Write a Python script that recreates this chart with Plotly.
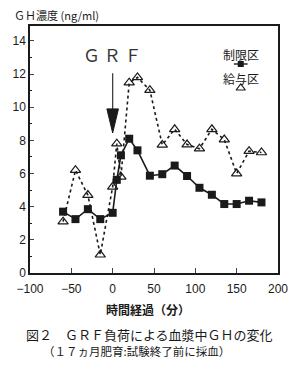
import plotly.graph_objects as go

# Data
time_min = [-60, -45, -30, -15, 0, 5, 10, 20, 30, 45, 60, 75, 90, 105, 120, 135, 150, 165, 180]
restricted = [3.7, 3.25, 3.85, 3.25, 3.63, 5.62, 7.1, 8.1, 7.4, 5.87, 5.96, 6.48, 5.85, 5.14, 4.72, 4.16, 4.16, 4.36, 4.26]
fed = [3.1, 6.2, 4.7, 1.1, 5.2, 7.8, 5.8, 11.48, 11.8, 11.03, 7.73, 8.67, 7.75, 7.5, 8.67, 8.05, 6.0, 7.35, 7.27]

x_ticks = [-100, -50, 0, 50, 100, 150, 200]
y_ticks = [0, 2, 4, 6, 8, 10, 12, 14]
name_restricted = "制限区"
name_fed = "給与区"

jp = "Noto Sans CJK JP"
num_font = "Liberation Sans Narrow, Liberation Sans, Arial"
ink = "#1a1a1a"

W, H = 300, 377
l, r, t, b = 30, 17, 26, 104


def px(xp, yp):
    return (xp - l) / (W - l - r), 1 - (yp - t) / (H - t - b)


fig = go.Figure()
fig.add_trace(go.Scatter(
    x=time_min, y=fed, mode="lines+markers", name=name_fed,
    line=dict(color=ink, width=1.6, dash="dot"),
    marker=dict(symbol="triangle-up-open", size=9, color=ink, line=dict(width=1.2)),
    showlegend=False, cliponaxis=False))
fig.add_trace(go.Scatter(
    x=time_min, y=restricted, mode="lines+markers", name=name_restricted,
    line=dict(color=ink, width=1.6),
    marker=dict(symbol="square", size=8, color=ink),
    showlegend=False, cliponaxis=False))

# legend keys on a hidden pixel-like overlay axis
fig.add_trace(go.Scatter(x=[238, 245, 252], y=[64, 64, 64], mode="lines", xaxis="x2", yaxis="y2",
                         line=dict(color=ink, width=1.4), showlegend=False, hoverinfo="skip"))
fig.add_trace(go.Scatter(x=[245], y=[64], mode="markers", xaxis="x2", yaxis="y2",
                         marker=dict(symbol="square", size=6, color=ink), showlegend=False, hoverinfo="skip"))
fig.add_trace(go.Scatter(x=[245], y=[88], mode="markers", xaxis="x2", yaxis="y2",
                         marker=dict(symbol="triangle-up-open", size=8, color=ink, line=dict(width=1.2)),
                         showlegend=False, hoverinfo="skip"))

annots = [
    dict(text="ＧＨ濃度 (ng/ml)", pos=(12, 15), font=dict(family=jp, size=11), xanchor="left"),
    dict(text="時間経過（分）", pos=(150, 309), font=dict(family=jp, size=12, weight="bold"), xanchor="center"),
    dict(text="図２　ＧＲＦ負荷による血漿中ＧＨの変化", pos=(152, 334), font=dict(family=jp, size=13), xanchor="center"),
    dict(text="（１７ヵ月肥育:試験終了前に採血）", pos=(139, 351), font=dict(family=jp, size=11.5), xanchor="center"),
]
ann_list = []
for a in annots:
    x, y = px(*a["pos"])
    ann_list.append(dict(text=a["text"], x=x, y=y, xref="paper", yref="paper", showarrow=False,
                         font=a["font"], xanchor=a["xanchor"], yanchor="middle"))
ann_list += [
    dict(text="Ｇ Ｒ Ｆ", x=0, y=13.2, xref="x", yref="y", showarrow=False,
         font=dict(family=jp, size=17, color="#333"), xanchor="center", yanchor="middle"),
    dict(text=name_restricted, x=245, y=54, xref="x2", yref="y2", showarrow=False,
         font=dict(family=jp, size=12), xanchor="center", yanchor="middle"),
    dict(text=name_fed, x=245, y=78, xref="x2", yref="y2", showarrow=False,
         font=dict(family=jp, size=12), xanchor="center", yanchor="middle"),
]

fig.update_layout(
    width=W, height=H,
    margin=dict(l=l, r=r, t=t, b=b),
    paper_bgcolor="white", plot_bgcolor="white",
    font=dict(family=num_font, color=ink, size=12),
    xaxis=dict(range=[-100, 200], tickvals=x_ticks, ticks="inside", ticklen=5,
               showline=True, linecolor=ink, linewidth=1.5, mirror=True, ticklabelstandoff=4,
               showgrid=False, zeroline=False, tickfont=dict(size=12, family=num_font)),
    yaxis=dict(range=[0, 14.9], tickvals=y_ticks, ticks="inside", ticklen=4,
               showline=True, linecolor=ink, linewidth=1.5, mirror=True,
               showgrid=False, zeroline=False, tickfont=dict(size=12, family=num_font),
               minor=dict(dtick=1, ticks="inside", ticklen=2, tickcolor=ink)),
    xaxis2=dict(range=[30, 283], overlaying="x", visible=False, fixedrange=True),
    yaxis2=dict(range=[273, 26], overlaying="y", visible=False, fixedrange=True),
    annotations=ann_list,
    shapes=[
        dict(type="line", xref="x", yref="y", x0=0, x1=0, y0=12.05, y1=9.9,
             line=dict(color="#333", width=1.2)),
        dict(type="path", xref="x", yref="y", path="M -7,9.9 L 7,9.9 L 0,8.45 Z",
             fillcolor=ink, line=dict(color=ink, width=1)),
    ],
)

fig.write_html("out.html")
